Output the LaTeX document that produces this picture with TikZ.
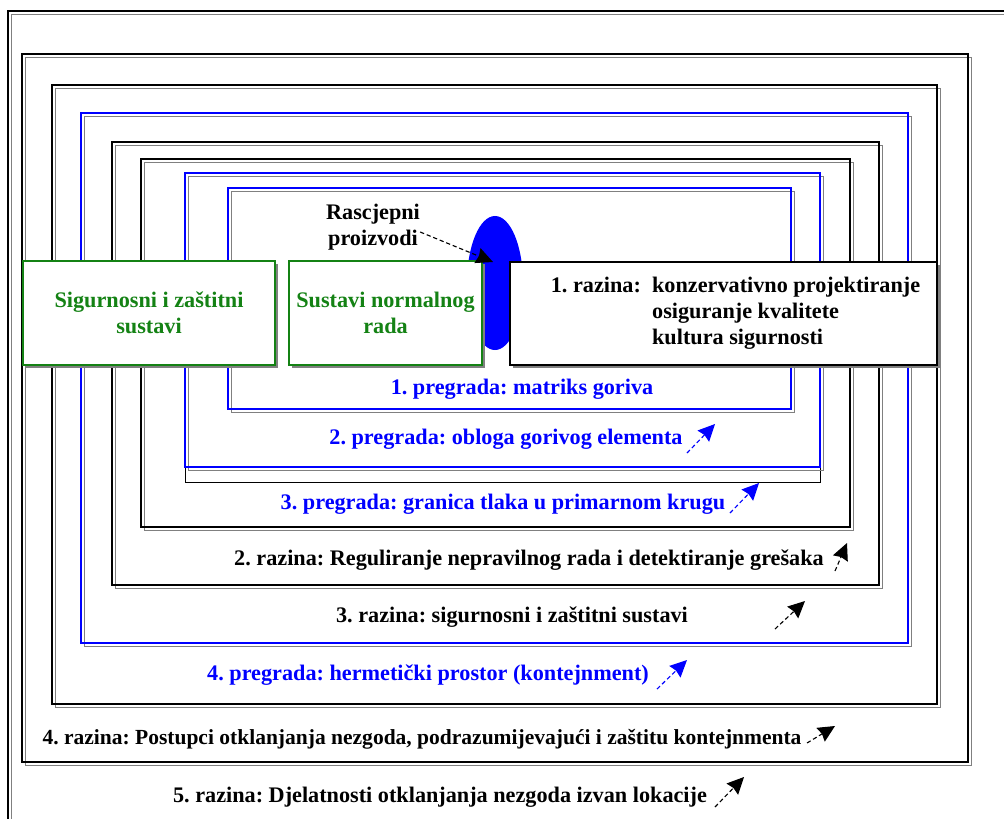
\documentclass[tikz,border=0pt]{standalone}
\usepackage{fontspec}
\setmainfont{Liberation Serif}
\usepackage{xcolor}
\usepackage{tikz}
\usetikzlibrary{shapes.geometric, arrows.meta, shadows, calc}
\frenchspacing
\definecolor{zelena}{RGB}{20,130,20}
\definecolor{plava}{RGB}{0,0,255}
\definecolor{sjena}{RGB}{128,128,128}
\tikzset{
  sjenaokvir/.style={draw=sjena, line width=1.1pt},
  kutija/.style={rectangle, fill=white, line width=1.2pt, align=center,
                 inner sep=0pt, font=\fontsize{15.8}{18.5}\selectfont\bfseries,
                 drop shadow={shadow xshift=0.08cm, shadow yshift=-0.08cm,
                              fill=sjena, opacity=1}},
  natpis/.style={font=\fontsize{15.8}{18.5}\selectfont\bfseries, inner sep=0pt},
  strelica/.style={-{Stealth[length=0.42cm, width=0.4cm, inset=0.04cm]},
                   densely dashed, line width=0.8pt}
}

\begin{document}
\begin{tikzpicture}[x=0.025cm, y=-0.025cm]

  \useasboundingbox (0,0) rectangle (1004,818);
  \clip (0,0) rectangle (1004,818);

  %% ── Okviri (razine i pregrade) ─────────────────────────────────────────
  \draw[black, line width=0.6pt] (185,173) rectangle (820,482);
  \foreach \xa/\ya/\xb/\yb/\boja/\w in {8/11/1040/850/black/0.8,
      22/54/968/762/black/1.3, 52/85/937/704/black/1.3,
      81/113/908/643/plava/1.1, 112/142/879/585/black/1.4,
      141/159/850/527/black/1.2, 185/173/820/467/plava/1.5,
      228/188/791/409/plava/1.5}
  {
    \draw[sjenaokvir] (\xa+3.5,\ya+3.5) rectangle (\xb+3.5,\yb+3.5);
    \draw[draw=\boja, line width=\w pt] (\xa,\ya) rectangle (\xb,\yb);
  }

  %% ── Gorivo ──────────────────────────────────────────────────────────────
  \node[ellipse, fill=plava, minimum width=1.4cm, minimum height=3.35cm,
        inner sep=0pt] (jezgra) at (495,283) {};
  \coordinate (fp) at (493,262);
  \node[natpis, align=center] (rascjep) at (373,227) {Rascjepni\\proizvodi};

  %% ── Kutije ──────────────────────────────────────────────────────────────
  \node[kutija, draw=zelena, text=zelena, minimum width=6.3cm,
        minimum height=2.6cm] (sigurnosni) at (149,313)
        {Sigurnosni i zaštitni\\sustavi};
  \node[kutija, draw=zelena, text=zelena, minimum width=4.825cm,
        minimum height=2.6cm] (normalni) at (385.5,313)
        {Sustavi normalnog\\rada};
  \node[kutija, draw=black, minimum width=10.675cm,
        minimum height=2.575cm] (razina1) at (723.5,313.5)
        {\hspace*{0.6cm}\begin{tabular}{@{}l@{\hspace{0.28cm}}l@{}}
          1. razina: & konzervativno projektiranje\\
                     & osiguranje kvalitete\\
                     & kultura sigurnosti
         \end{tabular}};

  %% ── Natpisi ─────────────────────────────────────────────────────────────
  \node[natpis, text=plava] (pregrada1) at (522,389) {1. pregrada: matriks goriva};
  \node[natpis, text=plava] (pregrada2) at (506,439) {2. pregrada: obloga gorivog elementa};
  \node[natpis, text=plava] (pregrada3) at (503,504) {3. pregrada: granica tlaka u primarnom krugu};
  \node[natpis] (razina2) at (529,560) {2. razina: Reguliranje nepravilnog rada i detektiranje grešaka};
  \node[natpis] (razina3) at (512,617) {3. razina: sigurnosni i zaštitni sustavi};
  \node[natpis, text=plava] (pregrada4) at (428,675) {4. pregrada: hermetički prostor (kontejnment)};
  \node[natpis, font=\fontsize{15.3}{18}\selectfont\bfseries] (razina4) at (422,739)
        {4. razina: Postupci otklanjanja nezgoda, podrazumijevajući i zaštitu kontejnmenta};
  \node[natpis] (razina5) at (440,797) {5. razina: Djelatnosti otklanjanja nezgoda izvan lokacije};

  %% ── Strelice ────────────────────────────────────────────────────────────
  \draw[strelica] ([yshift=-0.125cm]rascjep.east) -- (fp);

  \foreach \ime/\xa/\ya/\xb/\yb/\boja in {p2/687/453/715/424/plava,
      p3/730/513/759/483/plava, r2/835/571/847/543/black,
      r3/775/629/805/601/black, p4/657/689/687/660/plava,
      r4/807/743/835/726/black, r5/715/807/744/777/black}
  {
    \coordinate (\ime-rep) at (\xa,\ya);
    \coordinate (\ime-vrh) at (\xb,\yb);
    \draw[strelica, \boja] (\ime-rep) -- (\ime-vrh);
  }

\end{tikzpicture}
\end{document}
